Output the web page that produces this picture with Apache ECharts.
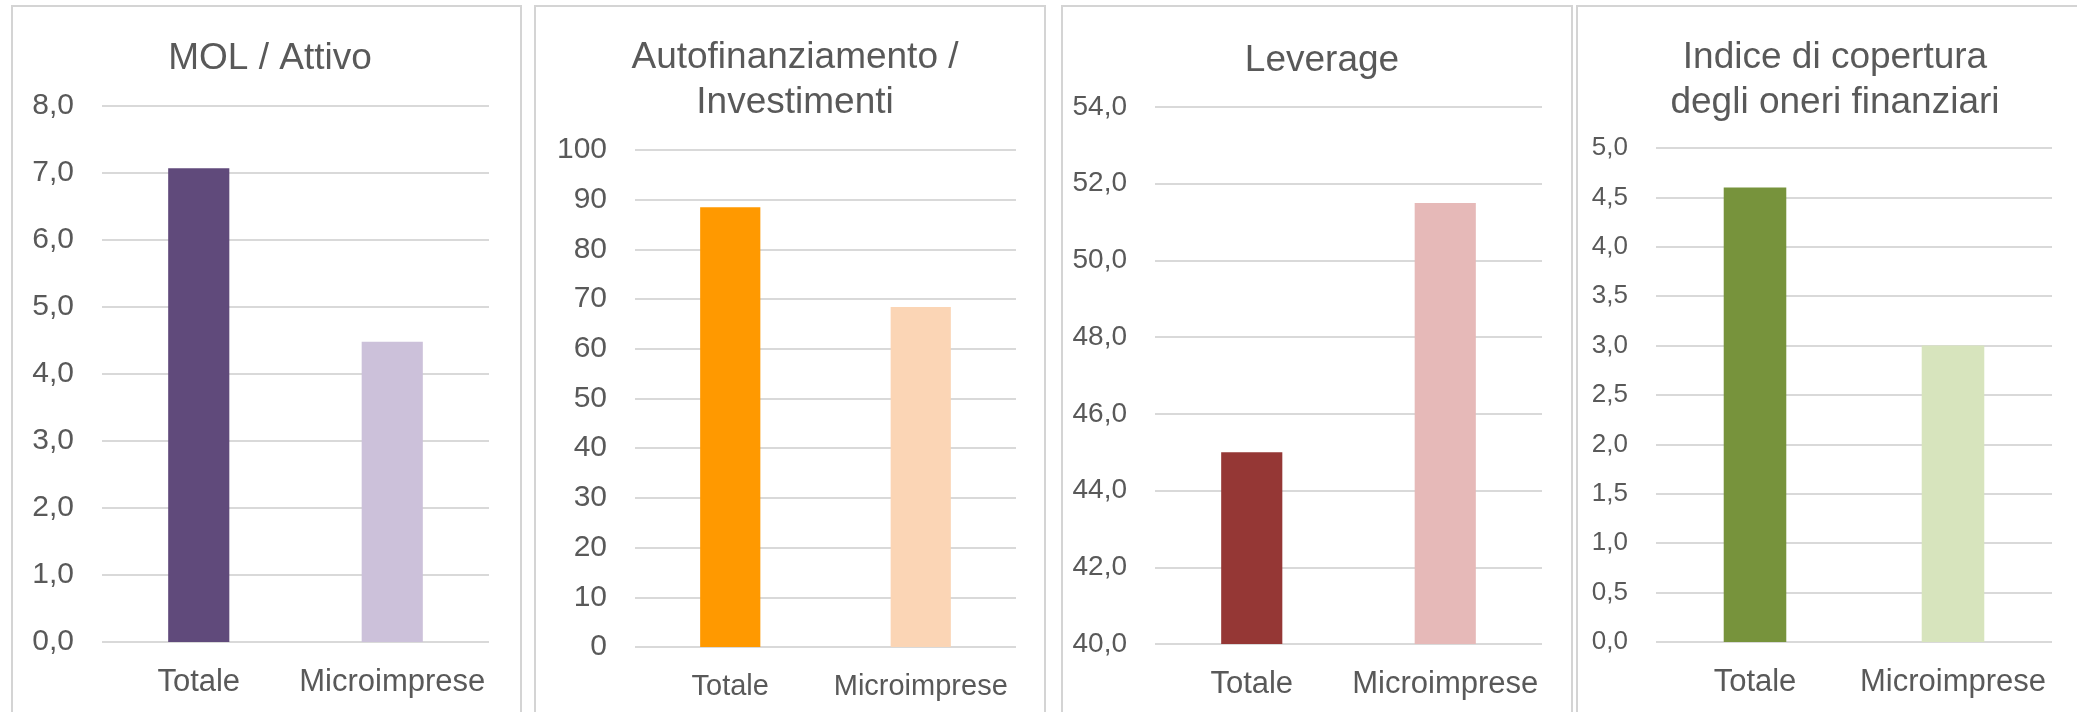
<!DOCTYPE html>
<html>
<head>
<meta charset="utf-8">
<script src="https://cdn.jsdelivr.net/npm/echarts@6/dist/echarts.min.js"></script>
<style>
  html, body { margin: 0; padding: 0; background: #fff; }
  #chart { width: 2077px; height: 712px; }
</style>
</head>
<body>
<div id="chart"></div>
<script>
const categories = ['Totale', 'Microimprese']

const titles = ['MOL / Attivo', 'Autofinanziamento /\nInvestimenti', 'Leverage', 'Indice di copertura\ndegli oneri finanziari']

const molAttivo = [7.07, 4.48]
const autofinInvest = [88.5, 68.4]
const leverage = [45.0, 51.5]
const coperturaOneri = [4.6, 3.0]

const yTicks = [
  { min: 0, max: 8, interval: 1, digits: 1 },
  { min: 0, max: 100, interval: 10, digits: 0 },
  { min: 40, max: 54, interval: 2, digits: 1 },
  { min: 0, max: 5, interval: 0.5, digits: 1 }
]

const values = [molAttivo, autofinInvest, leverage, coperturaOneri]
const colors = [
  ['#604a7b', '#ccc1da'],
  ['#ff9900', '#fbd5b5'],
  ['#953735', '#e6b9b8'],
  ['#77933c', '#d7e4bd']
]

// layout of each panel (pixels)
const panels = [
  { box: [12, 6, 509], grid: [102, 106, 489, 642], titleX: 265, titleY: 31, yFont: 30, xFont: 31 },
  { box: [535, 6, 510], grid: [635, 150, 1016, 647], titleX: 790, titleY: 30, yFont: 30, xFont: 29 },
  { box: [1062, 6, 510], grid: [1155, 107, 1542, 644], titleX: 1317, titleY: 33, yFont: 28, xFont: 31 },
  { box: [1577, 6, 520], grid: [1656, 148, 2052, 642], titleX: 1830, titleY: 30, yFont: 26, xFont: 31 }
]

const textColor = '#595959'
const font = 'Liberation Sans, Arial, sans-serif'

const chart = echarts.init(document.getElementById('chart'))

const option = {
  animation: false,
  backgroundColor: '#fff',
  textStyle: { fontFamily: font },
  graphic: panels.map(p => ({
    type: 'rect',
    shape: { x: p.box[0], y: p.box[1], width: p.box[2], height: 760 },
    style: { fill: 'none', stroke: '#d4d4d4', lineWidth: 2 },
    silent: true,
    z: -1
  })),
  title: panels.map((p, i) => ({
    text: titles[i],
    left: p.titleX,
    top: p.titleY,
    textAlign: 'center',
    textStyle: {
      color: textColor,
      fontFamily: font,
      fontWeight: 'normal',
      fontSize: 37,
      lineHeight: 45
    }
  })),
  grid: panels.map(p => ({
    left: p.grid[0],
    top: p.grid[1],
    width: p.grid[2] - p.grid[0],
    height: p.grid[3] - p.grid[1],
    containLabel: false
  })),
  xAxis: panels.map((p, i) => ({
    type: 'category',
    gridIndex: i,
    data: categories,
    axisLine: { show: false },
    axisTick: { show: false },
    axisLabel: {
      interval: 0,
      hideOverlap: false,
      color: textColor,
      fontFamily: font,
      fontSize: p.xFont,
      margin: 25
    }
  })),
  yAxis: panels.map((p, i) => ({
    type: 'value',
    gridIndex: i,
    min: yTicks[i].min,
    max: yTicks[i].max,
    interval: yTicks[i].interval,
    axisLine: { show: false },
    axisTick: { show: false },
    splitLine: { lineStyle: { color: '#d9d9d9', width: 2 } },
    axisLabel: {
      color: textColor,
      fontFamily: font,
      fontSize: p.yFont,
      margin: 28,
      formatter: v => v.toFixed(yTicks[i].digits).replace('.', ',')
    }
  })),
  series: values.map((vals, i) => ({
    type: 'bar',
    xAxisIndex: i,
    yAxisIndex: i,
    barWidth: '31.6%',
    data: vals.map((v, j) => ({ value: v, itemStyle: { color: colors[i][j] } }))
  }))
}

chart.setOption(option)
</script>
</body>
</html>
